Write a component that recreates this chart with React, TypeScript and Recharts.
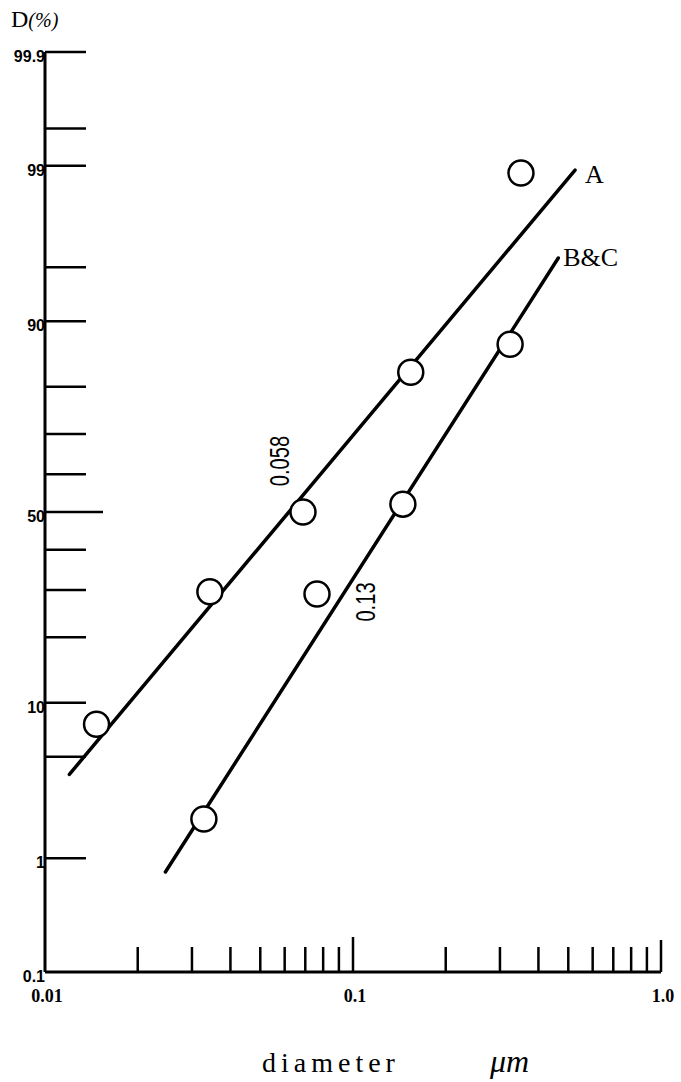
import React from 'react';
import { ScatterChart, Scatter, XAxis, YAxis, ReferenceDot } from 'recharts';

// measured points, diameter (um) vs cumulative D (%)
const diamA = [0.0147, 0.0343, 0.0688, 0.154, 0.351];
const pctA = [7.7, 29.6, 50, 82.6, 98.86];
const diamBC = [0.0328, 0.0764, 0.1452, 0.3237];
const pctBC = [1.96, 29.1, 52.1, 87.0];

// fitted straight lines (end points)
const fitDiamA = [0.012, 0.526];
const fitPctA = [3.9, 98.92];
const fitDiamBC = [0.0246, 0.464];
const fitPctBC = [0.78, 95.6];

const xTicks = [0.01, 0.02, 0.03, 0.04, 0.05, 0.06, 0.07, 0.08, 0.09, 0.1, 0.2, 0.3, 0.4, 0.5, 0.6, 0.7, 0.8, 0.9, 1.0];
const xLabelValues = [0.01, 0.1, 1.0];
const xLabelTexts = ['0.01', '0.1', '1.0'];

const yTicks = [0.1, 1, 5, 10, 20, 30, 40, 50, 60, 70, 80, 90, 95, 99, 99.5, 99.9];
const yLabelValues = [0.1, 1, 10, 50, 90, 99, 99.9];
const yLabelTexts = ['0.1', '1', '10', '50', '90', '99', '99.9'];

// inverse normal cdf (Acklam) -> probability paper axis
function probit(p: number): number {
  const a = [-39.69683028665376, 220.9460984245205, -275.9285104469687, 138.357751867269, -30.66479806614716, 2.506628277459239];
  const b = [-54.47609879822406, 161.5858368580409, -155.6989798598866, 66.80131188771972, -13.28068155288572];
  const c = [-0.007784894002430293, -0.3223964580411365, -2.400758277161838, -2.549732539343734, 4.374664141464968, 2.938163982698783];
  const d = [0.007784695709041462, 0.3224671290700398, 2.445134137142996, 3.754408661907416];
  const lo = 0.02425;
  if (p < lo) {
    const q = Math.sqrt(-2 * Math.log(p));
    return (((((c[0] * q + c[1]) * q + c[2]) * q + c[3]) * q + c[4]) * q + c[5]) / ((((d[0] * q + d[1]) * q + d[2]) * q + d[3]) * q + 1);
  }
  if (p > 1 - lo) {
    const q = Math.sqrt(-2 * Math.log(1 - p));
    return -(((((c[0] * q + c[1]) * q + c[2]) * q + c[3]) * q + c[4]) * q + c[5]) / ((((d[0] * q + d[1]) * q + d[2]) * q + d[3]) * q + 1);
  }
  const q = p - 0.5;
  const r = q * q;
  return ((((((a[0] * r + a[1]) * r + a[2]) * r + a[3]) * r + a[4]) * r + a[5]) * q) / (((((b[0] * r + b[1]) * r + b[2]) * r + b[3]) * r + b[4]) * r + 1);
}

const rows = (ds: number[], ps: number[]) => ds.map((d, i) => ({ d, z: probit(ps[i] / 100) }));

const ptsA = rows(diamA, pctA);
const ptsBC = rows(diamBC, pctBC);
const lineA = rows(fitDiamA, fitPctA);
const lineBC = rows(fitDiamBC, fitPctBC);

const find = (vals: number[], v: number) => vals.findIndex(t => Math.abs(t - v) < 1e-6);

const YTick = (props: any) => {
  const { x, y, payload } = props;
  const i = find(yTicks.map(t => probit(t / 100)), payload.value);
  const pct = yTicks[i];
  const li = find(yLabelValues, pct);
  const len = pct === 50 ? 58 : 41;
  return (
    <g>
      {pct !== 0.1 && <line x1={x} y1={y} x2={x + len} y2={y} stroke="#000" strokeWidth={2.5} />}
      {li >= 0 && (
        <text x={x} y={y + 10} textAnchor="end" fontFamily="Liberation Sans" fontWeight="bold" fontSize={16} fill="#000">
          {yLabelTexts[li]}
        </text>
      )}
    </g>
  );
};

const XTick = (props: any) => {
  const { x, y, payload } = props;
  const v = payload.value;
  const li = find(xLabelValues, v);
  const len = Math.abs(v - 0.1) < 1e-6 ? 35 : Math.abs(v - 1) < 1e-6 ? 32 : 25;
  return (
    <g>
      {Math.abs(v - 0.01) > 1e-6 && <line x1={x} y1={y} x2={x} y2={y - len} stroke="#000" strokeWidth={2.5} />}
      {li >= 0 && (
        <text x={x + 2} y={y + 30} textAnchor="middle" fontFamily="Liberation Serif" fontWeight="bold" fontSize={18} fill="#000">
          {xLabelTexts[li]}
        </text>
      )}
    </g>
  );
};

const Circle = (props: any) => (
  <circle cx={props.cx} cy={props.cy} r={12.5} fill="#fff" stroke="#000" strokeWidth={2.5} />
);

const serifLabel = (text: string, dx: number, dy: number) => (props: any) => {
  const vb = props.viewBox;
  const cx = vb.x + vb.width / 2;
  const cy = vb.y + vb.height / 2;
  return (
    <text x={cx + dx} y={cy + dy} fontFamily="Liberation Serif" fontSize={26} fill="#000">
      {text}
    </text>
  );
};

const medianLabel = (text: string, dx: number, dy: number) => (props: any) => {
  const vb = props.viewBox;
  const cx = vb.x + vb.width / 2 + dx;
  const cy = vb.y + vb.height / 2 + dy;
  return (
    <text
      transform={`translate(${cx},${cy}) rotate(-90) scale(0.72,1)`}
      textAnchor="middle"
      dominantBaseline="central"
      fontFamily="Liberation Sans"
      fontSize={28}
      fill="#000"
    >
      {text}
    </text>
  );
};

export default function App() {
  return (
    <div style={{ position: 'absolute', left: 0, top: 0, width: 681, height: 1082, background: '#fff' }}>
      <ScatterChart width={681} height={1082} margin={{ top: 52, right: 20, bottom: 80, left: 0 }}>
        <XAxis
          dataKey="d"
          type="number"
          scale="log"
          domain={[0.01, 1]}
          ticks={xTicks}
          interval={0}
          height={30}
          tickSize={0}
          tickMargin={0}
          tick={<XTick />}
          axisLine={{ stroke: '#000', strokeWidth: 3 }}
        />
        <YAxis
          dataKey="z"
          type="number"
          domain={[probit(0.001), probit(0.999)]}
          ticks={yTicks.map(t => probit(t / 100))}
          interval={0}
          width={45}
          tickSize={0}
          tickMargin={0}
          tick={<YTick />}
          axisLine={{ stroke: '#000', strokeWidth: 3 }}
        />
        <Scatter data={lineA} line={{ stroke: '#000', strokeWidth: 3.5, strokeLinecap: 'round' }} shape={() => <g />} isAnimationActive={false} />
        <Scatter data={lineBC} line={{ stroke: '#000', strokeWidth: 3.5, strokeLinecap: 'round' }} shape={() => <g />} isAnimationActive={false} />
        <Scatter data={ptsA} shape={<Circle />} isAnimationActive={false} />
        <Scatter data={ptsBC} shape={<Circle />} isAnimationActive={false} />
        <ReferenceDot x={fitDiamA[1]} y={probit(fitPctA[1] / 100)} r={1} fill="none" stroke="none" label={{ content: serifLabel('A', 10, 13) }} />
        <ReferenceDot x={fitDiamBC[1]} y={probit(fitPctBC[1] / 100)} r={1} fill="none" stroke="none" label={{ content: serifLabel('B&C', 5, 8) }} />
        <ReferenceDot x={0.058} y={0} r={1} fill="none" stroke="none" label={{ content: medianLabel('0.058', -1, -51) }} />
        <ReferenceDot x={0.13} y={0} r={1} fill="none" stroke="none" label={{ content: medianLabel('0.13', -23, 90) }} />
      </ScatterChart>
      <svg width={681} height={1082} style={{ position: 'absolute', left: 0, top: 0, pointerEvents: 'none' }}>
        <text x={11} y={27} fontFamily="Liberation Serif" fontSize={24} fill="#000">
          D<tspan fontSize={20} fontStyle="italic">(%)</tspan>
        </text>
        <text x={262} y={1072} fontFamily="Liberation Serif" fontSize={28} letterSpacing={5} fill="#000">
          diameter
        </text>
        <text x={490} y={1072} fontFamily="Liberation Serif" fontStyle="italic" fontSize={32} fill="#000">
          μm
        </text>
      </svg>
    </div>
  );
}
